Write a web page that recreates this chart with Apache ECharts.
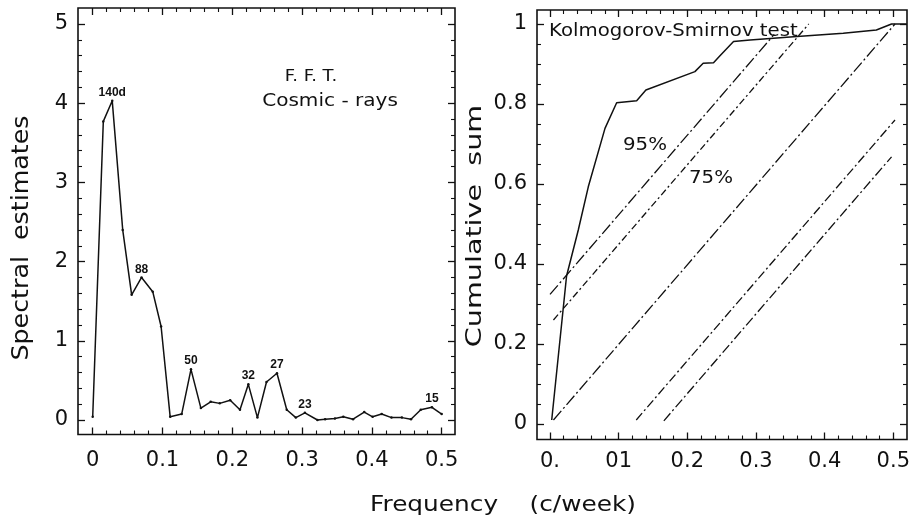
<!DOCTYPE html>
<html>
<head>
<meta charset="utf-8">
<script src="https://cdn.jsdelivr.net/npm/echarts@6/dist/echarts.min.js"></script>
<style>
html,body{margin:0;padding:0;background:#fff;}
#c{width:913px;height:525px;}
</style>
</head>
<body>
<div id="c"></div>
<script>
// ---------- data ----------
const specFreq = [0, 0.0152, 0.028, 0.043, 0.0558, 0.070, 0.086, 0.098, 0.111, 0.1275, 0.1408, 0.155, 0.169, 0.182, 0.197, 0.211, 0.223, 0.236, 0.249, 0.264, 0.278, 0.291, 0.304, 0.322, 0.333, 0.347, 0.359, 0.373, 0.389, 0.401, 0.414, 0.428, 0.443, 0.456, 0.470, 0.486, 0.500];
const specVal  = [0.04, 3.77, 4.03, 2.40, 1.58, 1.80, 1.62, 1.18, 0.04, 0.075, 0.64, 0.15, 0.23, 0.21, 0.25, 0.13, 0.45, 0.03, 0.48, 0.59, 0.13, 0.03, 0.09, 0.0, 0.01, 0.02, 0.04, 0.01, 0.10, 0.04, 0.075, 0.03, 0.03, 0.01, 0.13, 0.16, 0.075];
const peakNames = ['140d', '88', '50', '32', '27', '23', '15'];
const peakFreqs = [0.028, 0.070, 0.1408, 0.223, 0.264, 0.304, 0.486];

const cumFreq = [0.0025, 0.024, 0.041, 0.0555, 0.0797, 0.0966, 0.1256, 0.139, 0.21, 0.222, 0.237, 0.246, 0.266, 0.29, 0.353, 0.425, 0.473, 0.495, 0.517];
const cumVal  = [0.01, 0.37, 0.485, 0.593, 0.739, 0.803, 0.808, 0.835, 0.881, 0.902, 0.903, 0.92, 0.956, 0.96, 0.968, 0.977, 0.985, 1.0, 1.0];

// Kolmogorov-Smirnov band lines: [startFreq, startVal, endFreq, endVal]
const ksDiag   = [0.005, 0.01, 0.5, 1.0];
const ks95Up   = [0.0, 0.324, 0.325, 0.974];
const ks75Up   = [0.005, 0.26, 0.375, 1.0];
const ks75Low  = [0.125, 0.01, 0.5, 0.76];
const ks95Low  = [0.165, 0.008, 0.495, 0.668];

const leftXLabels  = ['0', '0.1', '0.2', '0.3', '0.4', '0.5'];
const leftYLabels  = ['0', '1', '2', '3', '4', '5'];
const rightXLabels = ['0.', '01', '0.2', '0.3', '0.4', '0.5'];
const rightYLabels = ['0', '0.2', '0.4', '0.6', '0.8', '1'];

// ---------- layout ----------
const L = {fx0: 78, fx1: 455, fy0: 8, fy1: 434.5, x0: 92.7, x1: 441.7, y0: 420, y1: 24, xv1: 0.5, yv1: 5};
const R = {fx0: 537, fx1: 907, fy0: 10, fy1: 439.5, x0: 550, x1: 895, y0: 424, y1: 24, xv1: 0.5, yv1: 1};

function frameRange(P) {
  const sx = (P.x1 - P.x0) / P.xv1, sy = (P.y0 - P.y1) / P.yv1;
  return {
    xmin: (P.fx0 - P.x0) / sx, xmax: (P.fx1 - P.x0) / sx,
    ymin: -(P.fy1 - P.y0) / sy, ymax: (P.y0 - P.fy0) / sy
  };
}
const LR = frameRange(L), RR = frameRange(R);

const FONT = 'DejaVu Sans';
const INK = '#111';

const grids = [
  {left: L.fx0, top: L.fy0, width: L.fx1 - L.fx0, height: L.fy1 - L.fy0, show: true, borderColor: INK, borderWidth: 1.6, backgroundColor: 'transparent'},
  {left: L.x0, top: L.fy0, width: L.x1 - L.x0, height: L.fy1 - L.fy0},
  {left: L.fx0, top: L.y1, width: L.fx1 - L.fx0, height: L.y0 - L.y1},
  {left: R.fx0, top: R.fy0, width: R.fx1 - R.fx0, height: R.fy1 - R.fy0, show: true, borderColor: INK, borderWidth: 1.6, backgroundColor: 'transparent'},
  {left: R.x0, top: R.fy0, width: R.x1 - R.x0, height: R.fy1 - R.fy0},
  {left: R.fx0, top: R.y1, width: R.fx1 - R.fx0, height: R.y0 - R.y1}
];

function tickAxis(gridIndex, position, max, interval, split, labels, showLabel, margin) {
  return {
    type: 'value', gridIndex, position, min: 0, max, interval,
    axisLine: {show: false},
    axisTick: {show: true, inside: true, length: 7, lineStyle: {color: INK, width: 1.3}},
    minorTick: {show: true, splitNumber: split, length: 4, lineStyle: {color: INK, width: 1.1}},
    splitLine: {show: false}, minorSplitLine: {show: false},
    axisLabel: {
      show: showLabel, margin, color: INK, fontFamily: FONT, fontSize: 21,
      showMinLabel: true, showMaxLabel: true,
      formatter: v => labels[Math.round(v / interval)]
    }
  };
}
function hiddenAxis(gridIndex, min, max) {
  return {type: 'value', gridIndex, min, max, show: false, splitLine: {show: false}};
}

const xAxes = [
  hiddenAxis(0, LR.xmin, LR.xmax),
  tickAxis(1, 'bottom', 0.5, 0.1, 5, leftXLabels, true, 16),
  tickAxis(1, 'top', 0.5, 0.1, 5, leftXLabels, false, 8),
  hiddenAxis(2, 0, 1),
  hiddenAxis(3, RR.xmin, RR.xmax),
  tickAxis(4, 'bottom', 0.5, 0.1, 5, rightXLabels, true, 12),
  tickAxis(4, 'top', 0.5, 0.1, 5, rightXLabels, false, 8),
  hiddenAxis(5, 0, 1)
];
const yAxes = [
  hiddenAxis(0, LR.ymin, LR.ymax),
  hiddenAxis(1, 0, 1),
  tickAxis(2, 'left', 5, 1, 5, leftYLabels, true, 10),
  tickAxis(2, 'right', 5, 1, 5, leftYLabels, false, 8),
  hiddenAxis(3, RR.ymin, RR.ymax),
  hiddenAxis(4, 0, 1),
  tickAxis(5, 'left', 1, 0.2, 4, rightYLabels, true, 10),
  tickAxis(5, 'right', 1, 0.2, 4, rightYLabels, false, 8)
];

const specData = specFreq.map((f, i) => {
  const k = peakFreqs.findIndex(p => Math.abs(p - f) < 1e-6);
  const item = {value: [f, specVal[i]]};
  if (k >= 0) {
    item.label = {show: true, position: 'top', distance: 1, formatter: peakNames[k],
      fontFamily: 'Liberation Sans', fontWeight: 'bold', fontSize: 12, color: INK};
  }
  return item;
});

function ksSeries(seg, dash) {
  return {
    type: 'line', xAxisIndex: 4, yAxisIndex: 4, showSymbol: false, silent: true,
    data: [[seg[0], seg[1]], [seg[2], seg[3]]],
    lineStyle: {color: INK, width: 1.3, type: dash}
  };
}

function txt(x, y, text, size, scaleX, align, rot) {
  return {type: 'text', x, y, rotation: rot || 0, scaleX: scaleX || 1,
    style: {text, fontFamily: FONT, fontSize: size, fill: INK,
      align: align || 'center', verticalAlign: 'middle',
      textAlign: align || 'center', textVerticalAlign: 'middle'}};
}

const option = {
  backgroundColor: '#fff',
  animation: false,
  grid: grids,
  xAxis: xAxes,
  yAxis: yAxes,
  series: [
    {
      type: 'line', xAxisIndex: 0, yAxisIndex: 0, data: specData,
      symbol: 'circle', symbolSize: 2.5, showSymbol: true,
      itemStyle: {color: INK}, lineStyle: {color: INK, width: 1.5}
    },
    {
      type: 'line', xAxisIndex: 4, yAxisIndex: 4,
      data: cumFreq.map((f, i) => [f, cumVal[i]]),
      showSymbol: false, lineStyle: {color: INK, width: 1.5}
    },
    ksSeries(ksDiag, [12, 3, 2, 3]),
    ksSeries(ks95Up, [12, 3, 2, 3]),
    ksSeries(ks75Up, [7, 3, 2, 3]),
    ksSeries(ks75Low, [9, 3, 2, 3]),
    ksSeries(ks95Low, [10, 3, 2, 3])
  ],
  graphic: [
    txt(22, 238, 'Spectral  estimates', 23, 1.1, 'center', Math.PI / 2),
    txt(475, 226, 'Cumulative  sum', 22, 1.3, 'center', Math.PI / 2),
    txt(503, 506, 'Frequency    (c/week)', 21, 1.18),
    txt(311, 77, 'F. F. T.', 15, 1.2),
    txt(330, 102, 'Cosmic - rays', 17, 1.18),
    txt(549, 32, 'Kolmogorov-Smirnov test', 17, 1.16, 'left'),
    txt(645, 145, '95%', 18, 1.1),
    txt(711, 178, '75%', 18, 1.1)
  ]
};

const chart = echarts.init(document.getElementById('c'), null, {renderer: 'canvas'});
chart.setOption(option);
</script>
</body>
</html>
